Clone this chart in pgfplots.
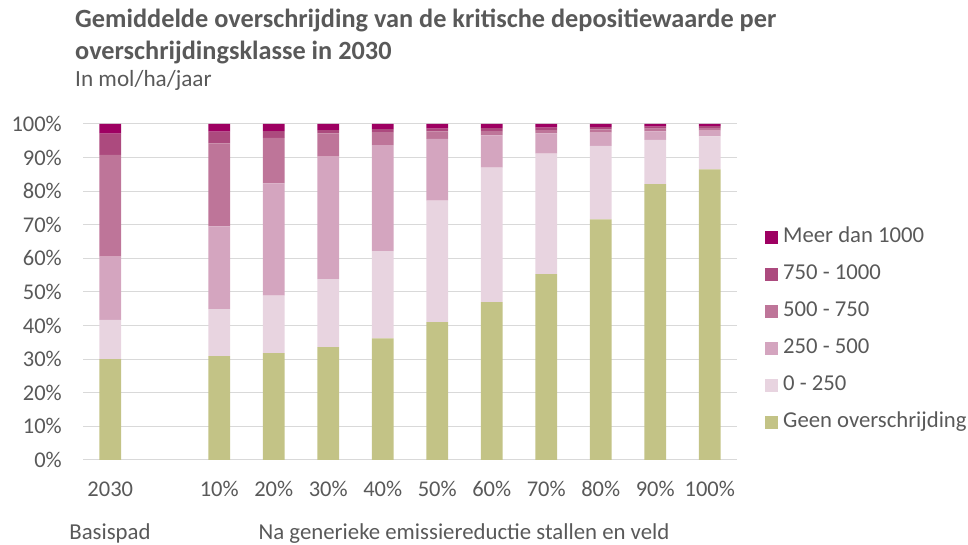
\documentclass[border=0pt]{standalone}
\usepackage{fontspec}
\setmainfont{Carlito}
\usepackage{pgfplots}
\usepackage{pgfplotstable}
\pgfplotsset{compat=1.18}
\definecolor{tc}{HTML}{595959}
\definecolor{cgeen}{HTML}{C3C386}
\definecolor{cnul}{HTML}{E8D4E0}
\definecolor{ctwee}{HTML}{D4A5BF}
\definecolor{cvijf}{HTML}{BE7599}
\definecolor{czeven}{HTML}{AC4A7E}
\definecolor{cmeer}{HTML}{9E0062}
\definecolor{gridc}{HTML}{D9D9D9}
\pgfplotstableread{
x geen a0 a250 a500 a750 meer
0 30.0 11.7 18.8 30.3 6.3 2.9
2 30.9 14.0 24.6 24.7 3.5 2.3
3 31.8 17.1 33.4 13.6 2.0 2.1
4 33.6 20.2 36.5 6.9 1.0 1.8
5 36.2 26.0 31.5 3.9 0.9 1.5
6 41.0 36.2 18.4 2.2 0.8 1.4
7 47.0 40.0 9.6 1.3 0.9 1.2
8 55.3 35.9 6.0 1.0 0.7 1.1
9 71.6 21.9 3.9 1.0 0.7 0.9
10 82.1 13.2 2.5 0.8 0.6 0.8
11 86.5 9.8 1.7 0.8 0.6 0.6
}\datatable
\begin{document}
\begin{tikzpicture}
\path[use as bounding box] (0,0) rectangle (968pt,545pt);
\node[anchor=base west, inner sep=0pt, text=tc, font=\fontsize{26.3}{30}\selectfont\bfseries] at (75pt,517pt) {Gemiddelde overschrijding van de kritische depositiewaarde per};
\node[anchor=base west, inner sep=0pt, text=tc, font=\fontsize{26.3}{30}\selectfont\bfseries] at (75pt,485pt) {overschrijdingsklasse in 2030};
\node[anchor=base west, inner sep=0pt, text=tc, font=\fontsize{23.2}{27}\selectfont] at (75pt,458pt) {In mol/ha/jaar};
\begin{axis}[
  at={(83pt,85pt)}, anchor=south west,
  width=654pt, height=336pt, scale only axis,
  ybar stacked, bar width=0.4,
  xmin=-0.5, xmax=11.5, ymin=0, ymax=100,
  xtick={0,2,3,4,5,6,7,8,9,10,11},
  xticklabels={2030,10\%,20\%,30\%,40\%,50\%,60\%,70\%,80\%,90\%,100\%},
  ytick={0,10,...,100},
  yticklabels={0\%,10\%,20\%,30\%,40\%,50\%,60\%,70\%,80\%,90\%,100\%},
  ymajorgrids, grid style={draw=gridc, line width=1pt},
  axis line style={draw=none}, major tick style={draw=none},
  ticklabel style={font=\fontsize{22.5}{26}\selectfont, text=tc},
  yticklabel style={anchor=east, inner sep=0pt, xshift=-21pt},
  xticklabel style={anchor=base, inner sep=0pt, yshift=-37pt},
  reverse legend,
  legend style={at={(1.0428,0.6896)}, anchor=north west, draw=none, fill=none,
    inner sep=0pt, font=\fontsize{22.7}{26}\selectfont, text=tc,
    row sep=19pt, column sep=5pt,
    nodes={inner sep=0pt, text height=14pt, text depth=4pt}},
  legend cell align=left,
  legend image code/.code={\fill[#1] (0pt,-6.5pt) rectangle (13pt,6.5pt);},
]
\addplot[fill=cgeen, draw=none] table[x=x, y=geen] {\datatable};
\addplot[fill=cnul, draw=none] table[x=x, y=a0] {\datatable};
\addplot[fill=ctwee, draw=none] table[x=x, y=a250] {\datatable};
\addplot[fill=cvijf, draw=none] table[x=x, y=a500] {\datatable};
\addplot[fill=czeven, draw=none] table[x=x, y=a750] {\datatable};
\addplot[fill=cmeer, draw=none] table[x=x, y=meer] {\datatable};
\legend{Geen overschrijding, 0 - 250, 250 - 500, 500 - 750, 750 - 1000, Meer dan 1000}
\end{axis}
\node[anchor=base, inner sep=0pt, text=tc, font=\fontsize{22.8}{26}\selectfont] at (110pt,5pt) {Basispad};
\node[anchor=base, inner sep=0pt, text=tc, font=\fontsize{22.8}{26}\selectfont] at (464pt,5pt) {Na generieke emissiereductie stallen en veld};
\end{tikzpicture}
\end{document}
